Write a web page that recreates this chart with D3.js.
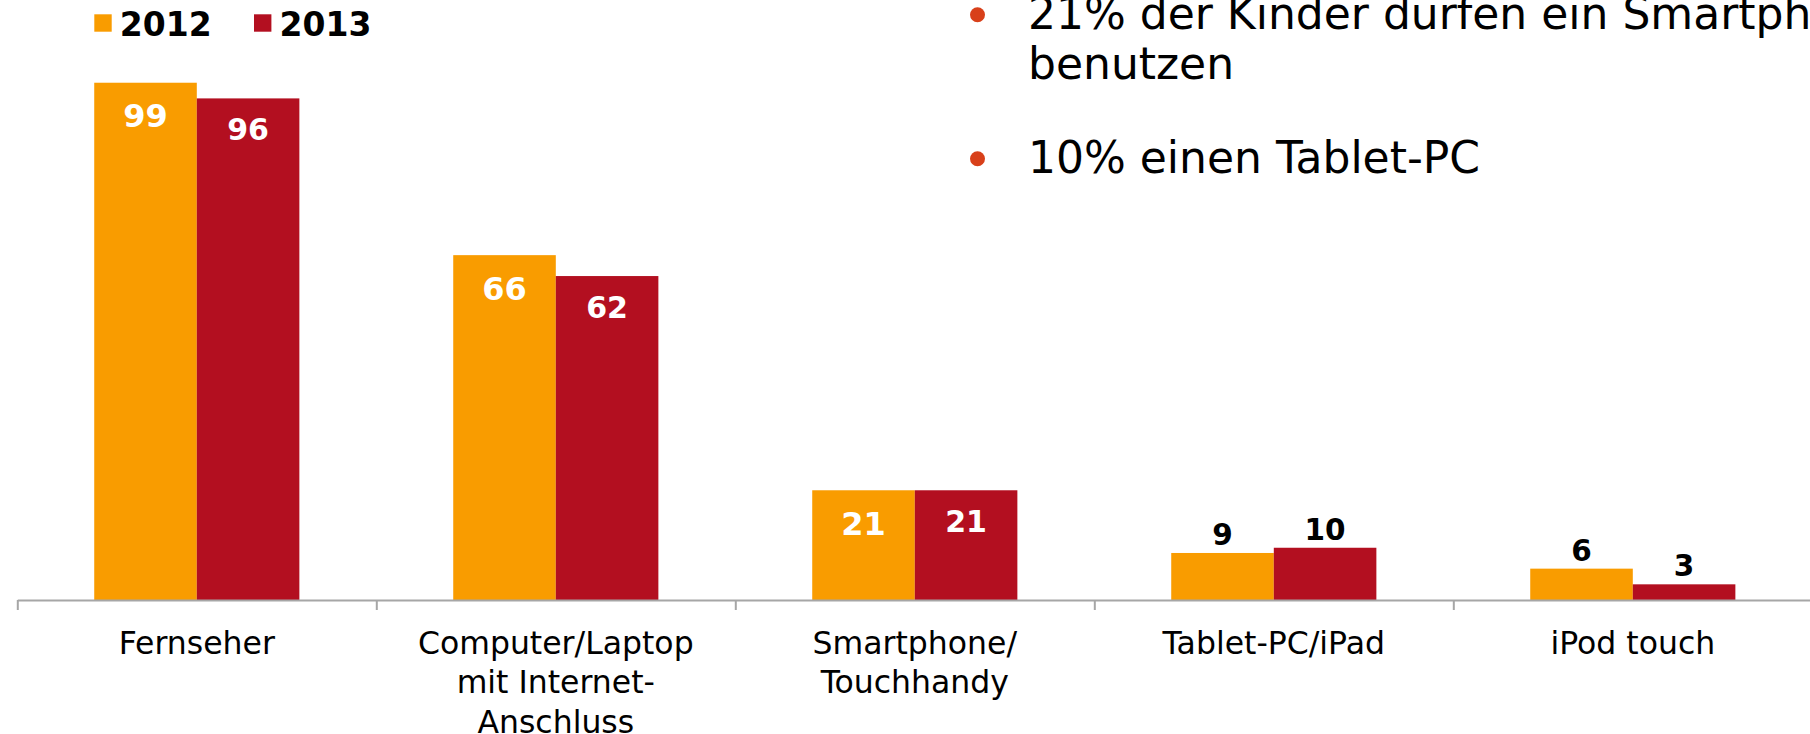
<!DOCTYPE html>
<html>
<head>
<meta charset="utf-8">
<script src="https://cdn.jsdelivr.net/npm/d3@7"></script>
<style>
  body { margin: 0; background: #fff; }
  svg { display: block; font-family: "DejaVu Sans", Verdana, sans-serif; }
</style>
</head>
<body>
<div id="chart"></div>
<script>
// data
const categories = ["Fernseher", "Computer/Laptop\nmit Internet-\nAnschluss", "Smartphone/\nTouchhandy", "Tablet-PC/iPad", "iPod touch"];
const years = ["2012", "2013"];
const values2012 = [99, 66, 21, 9, 6];
const values2013 = [96, 62, 21, 10, 3];
const notes = [
  ["21% der Kinder dürfen ein Smartphone", "benutzen"],
  ["10% einen Tablet-PC"]
];

const colors = { "2012": "#f99c00", "2013": "#b30f20" };

const svgWidth = 1810, svgHeight = 734;
const axisY = 600;
const left = 17.3, step = 359;

const svg = d3.select('#chart').append('svg')
  .attr('width', svgWidth)
  .attr('height', svgHeight);

const rows = categories.map((c, i) => ({ category: c, "2012": values2012[i], "2013": values2013[i] }));

const x0 = d3.scaleBand()
  .domain(categories)
  .range([left, left + step * categories.length]);

const x1 = d3.scaleBand()
  .domain(years)
  .range([0, x0.bandwidth()])
  .paddingOuter(0.75);

const y = d3.scaleLinear().domain([0, 100]).range([axisY, 77.5]);

// bars
const groups = svg.append('g')
  .selectAll('g')
  .data(rows)
  .join('g')
  .attr('transform', d => "translate(" + x0(d.category) + ",0)");

const bars = groups.selectAll('g')
  .data(d => years.map(yr => ({ year: yr, value: d[yr] })))
  .join('g');

bars.append('rect')
  .attr('x', d => x1(d.year))
  .attr('y', d => y(d.value))
  .attr('width', x1.bandwidth())
  .attr('height', d => y(0) - y(d.value))
  .attr('fill', d => colors[d.year]);

// value labels: white inside tall bars, black above short ones
bars.append('text')
  .attr('x', d => x1(d.year) + x1.bandwidth() / 2)
  .attr('y', d => {
    if (d.value < 20) return y(d.value) - 8;
    return y(d.value) + (d.year === "2012" ? 44.5 : 41.5);
  })
  .attr('text-anchor', 'middle')
  .attr('font-weight', 'bold')
  .attr('font-size', d => d.value < 20 ? 29.5 : (d.year === "2012" ? 32 : 30))
  .attr('fill', d => d.value < 20 ? '#000' : '#fff')
  .text(d => d.value);

// axis with ticks between the categories
const xIndex = d3.scaleLinear().domain([0, categories.length]).range(x0.range());

const axis = svg.append('g')
  .attr('transform', "translate(0," + axisY + ")")
  .call(d3.axisBottom(xIndex)
    .tickValues(d3.range(categories.length + 1))
    .tickFormat('')
    .tickSizeInner(10)
    .tickSizeOuter(0));

axis.selectAll('path, line')
  .attr('stroke', '#a6a6a6')
  .attr('stroke-width', 2);

// category labels
const catLabels = svg.append('g')
  .selectAll('text')
  .data(categories)
  .join('text')
  .attr('x', d => x0(d) + x0.bandwidth() / 2)
  .attr('y', 654)
  .attr('text-anchor', 'middle')
  .attr('font-size', 31.5)
  .attr('fill', '#000');

catLabels.selectAll('tspan')
  .data(d => d.split('\n'))
  .join('tspan')
  .attr('x', function() { return d3.select(this.parentNode).attr('x'); })
  .attr('dy', (d, i) => i === 0 ? 0 : 39.3)
  .text(d => d);

// legend
const legend = svg.append('g')
  .selectAll('g')
  .data(years)
  .join('g')
  .attr('transform', (d, i) => "translate(" + (94.3 + i * 159.7) + ",0)");

legend.append('rect')
  .attr('x', 0)
  .attr('y', 14.3)
  .attr('width', 17.4)
  .attr('height', 17.4)
  .attr('fill', d => colors[d]);

legend.append('text')
  .attr('x', 25.5)
  .attr('y', 35.7)
  .attr('font-size', 33)
  .attr('font-weight', 'bold')
  .attr('fill', '#000')
  .text(d => d);

// bullet notes
const noteBaselines = [29.3, 173.3];

const note = svg.append('g')
  .selectAll('g')
  .data(notes)
  .join('g')
  .attr('transform', (d, i) => "translate(0," + noteBaselines[i] + ")");

note.append('circle')
  .attr('cx', 977.5)
  .attr('cy', -14.5)
  .attr('r', 7.5)
  .attr('fill', '#d8401a');

note.append('text')
  .attr('font-size', 44)
  .attr('fill', '#000')
  .selectAll('tspan')
  .data(d => d)
  .join('tspan')
  .attr('x', 1028)
  .attr('y', (d, i) => i * 49.7)
  .text(d => d);
</script>
</body>
</html>
